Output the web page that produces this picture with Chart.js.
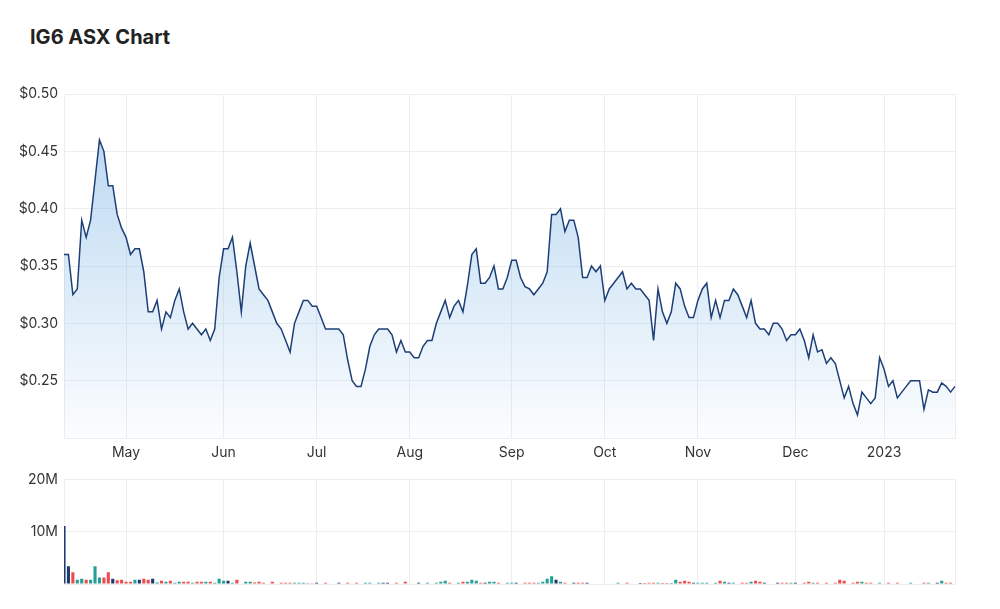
<!DOCTYPE html>
<html>
<head>
<meta charset="utf-8">
<title>IG6 ASX Chart</title>
<script src="https://cdn.jsdelivr.net/npm/chart.js@4.4.1/dist/chart.umd.min.js"></script>
<style>
  html, body { margin: 0; padding: 0; background: #fff; }
  body { width: 1000px; height: 609px; position: relative; overflow: hidden; font-family: Inter, sans-serif; }
  h1 { position: absolute; left: 30px; top: 24px; margin: 0; font-size: 20px; font-weight: 700; line-height: 26px; color: #222; }
  #priceBox { position: absolute; left: 0; top: 60px; width: 1000px; height: 420px; }
  #volBox { position: absolute; left: 0; top: 465px; width: 1000px; height: 144px; }
</style>
</head>
<body>
<h1>IG6 ASX Chart</h1>
<div id="priceBox"><canvas id="priceChart"></canvas></div>
<div id="volBox"><canvas id="volChart"></canvas></div>
<script>
// month tick labels (first trading day of each month gets the label)
const months = ['', 'May', 'Jun', 'Jul', 'Aug', 'Sep', 'Oct', 'Nov', 'Dec', '2023'];

// daily closing price, one array per month
const priceApr = [0.36, 0.36, 0.325, 0.33, 0.39, 0.375, 0.39, 0.425, 0.46, 0.45, 0.42, 0.42, 0.395, 0.383];
const priceMay = [0.375, 0.36, 0.365, 0.365, 0.345, 0.31, 0.31, 0.32, 0.295, 0.31, 0.305, 0.32, 0.33, 0.31, 0.295, 0.30, 0.295, 0.29, 0.295, 0.285, 0.295, 0.34];
const priceJun = [0.365, 0.365, 0.375, 0.345, 0.31, 0.35, 0.37, 0.35, 0.33, 0.325, 0.32, 0.31, 0.30, 0.295, 0.285, 0.275, 0.30, 0.31, 0.32, 0.32, 0.315];
const priceJul = [0.315, 0.305, 0.295, 0.295, 0.295, 0.295, 0.29, 0.268, 0.25, 0.245, 0.245, 0.26, 0.28, 0.29, 0.295, 0.295, 0.295, 0.29, 0.275, 0.285, 0.275];
const priceAug = [0.275, 0.27, 0.27, 0.28, 0.285, 0.285, 0.30, 0.31, 0.32, 0.305, 0.315, 0.32, 0.31, 0.333, 0.36, 0.365, 0.335, 0.335, 0.34, 0.35, 0.33, 0.33, 0.34];
const priceSep = [0.355, 0.355, 0.34, 0.332, 0.33, 0.325, 0.33, 0.335, 0.345, 0.395, 0.395, 0.40, 0.38, 0.39, 0.39, 0.375, 0.34, 0.34, 0.35, 0.345, 0.35];
const priceOct = [0.32, 0.33, 0.335, 0.34, 0.345, 0.33, 0.335, 0.33, 0.33, 0.325, 0.32, 0.285, 0.33, 0.31, 0.30, 0.31, 0.335, 0.33, 0.315, 0.305, 0.305];
const priceNov = [0.32, 0.33, 0.335, 0.305, 0.32, 0.305, 0.32, 0.32, 0.33, 0.325, 0.315, 0.305, 0.32, 0.30, 0.295, 0.295, 0.29, 0.30, 0.30, 0.295, 0.285, 0.29];
const priceDec = [0.29, 0.295, 0.285, 0.27, 0.29, 0.275, 0.277, 0.265, 0.27, 0.265, 0.25, 0.235, 0.245, 0.23, 0.22, 0.24, 0.235, 0.23, 0.235, 0.27];
const priceJan = [0.26, 0.245, 0.25, 0.235, 0.24, 0.245, 0.25, 0.25, 0.25, 0.225, 0.242, 0.24, 0.24, 0.248, 0.245, 0.24, 0.245];

// daily volume in millions of shares
const volApr = [11.1, 3.4, 2.25, 0.8, 1.0, 0.8, 0.8, 3.4, 1.25, 1.25, 2.25, 1.0, 0.7, 0.8];
const volMay = [0.45, 0.45, 0.8, 0.8, 1.0, 0.8, 1.0, 0.3, 0.6, 0.45, 0.6, 0.25, 0.45, 0.45, 0.45, 0.25, 0.45, 0.45, 0.45, 0.45, 0.25, 1.0];
const volJun = [0.6, 0.6, 0.25, 0.8, 0.1, 0.45, 0.45, 0.3, 0.45, 0.25, 0.1, 0.45, 0.1, 0.25, 0.25, 0.25, 0.25, 0.25, 0.25, 0.15, 0.15];
const volJul = [0.25, 0.1, 0.25, 0.1, 0.1, 0.25, 0.1, 0.25, 0.1, 0.25, 0.1, 0.25, 0.25, 0.1, 0.25, 0.25, 0.25, 0.1, 0.25, 0.1, 0.45];
const volAug = [0.1, 0.1, 0.25, 0.1, 0.25, 0.1, 0.25, 0.45, 0.6, 0.25, 0.1, 0.25, 0.45, 0.45, 0.8, 0.6, 0.25, 0.25, 0.45, 0.45, 0.25, 0.1, 0.25];
const volSep = [0.25, 0.25, 0.1, 0.25, 0.25, 0.25, 0.25, 0.45, 1.0, 1.5, 0.8, 0.45, 0.25, 0.1, 0.25, 0.25, 0.25, 0.25, 0.1, 0.1, 0.1];
const volOct = [0.1, 0.1, 0.1, 0.25, 0.1, 0.25, 0.1, 0.1, 0.2, 0.2, 0.25, 0.25, 0.25, 0.2, 0.2, 0.2, 0.8, 0.45, 0.6, 0.45, 0.25];
const volNov = [0.25, 0.25, 0.25, 0.1, 0.25, 0.6, 0.45, 0.25, 0.25, 0.1, 0.25, 0.25, 0.45, 0.6, 0.45, 0.25, 0.1, 0.1, 0.25, 0.25, 0.25, 0.25];
const volDec = [0.25, 0.1, 0.25, 0.45, 0.25, 0.25, 0.1, 0.25, 0.1, 0.25, 0.8, 0.6, 0.1, 0.25, 0.45, 0.45, 0.25, 0.25, 0.1, 0.25];
const volJan = [0.1, 0.25, 0.1, 0.25, 0.1, 0.1, 0.25, 0.1, 0.1, 0.25, 0.25, 0.1, 0.25, 0.6, 0.25, 0.25, 0.1];

const priceByMonth = [priceApr, priceMay, priceJun, priceJul, priceAug, priceSep, priceOct, priceNov, priceDec, priceJan];
const volByMonth = [volApr, volMay, volJun, volJul, volAug, volSep, volOct, volNov, volDec, volJan];

const labels = [];
priceByMonth.forEach((m, k) => m.forEach((_, j) => labels.push(j === 0 ? months[k] : '')));
const prices = [].concat(...priceByMonth);
const volumes = [].concat(...volByMonth).map(v => v * 1e6);

// bar colour follows the day's price move
const barColors = prices.map((p, i) => {
  if (i === 0 || p === prices[i - 1]) return '#1e3a6e';
  return p > prices[i - 1] ? '#26a096' : '#ec4e4e';
});

Chart.defaults.font.family = 'Inter';
Chart.defaults.color = '#333';

const gridLine = '#ededed';
function monthGrid(ctx) {
  const i = ctx.index;
  if (labels[i] || i === 0 || i === labels.length - 1) return gridLine;
  return 'rgba(0,0,0,0)';
}

new Chart(document.getElementById('priceChart'), {
  type: 'line',
  data: {
    labels: labels,
    datasets: [{
      data: prices,
      borderColor: '#1d3f76',
      borderWidth: 1.5,
      pointRadius: 0,
      tension: 0,
      fill: 'start',
      backgroundColor: c => {
        const a = c.chart.chartArea;
        if (!a) return 'rgba(0,0,0,0)';
        const g = c.chart.ctx.createLinearGradient(0, a.top, 0, a.bottom);
        g.addColorStop(0, 'rgba(140,190,232,0.65)');
        g.addColorStop(1, 'rgba(140,190,232,0.03)');
        return g;
      }
    }]
  },
  options: {
    responsive: true,
    maintainAspectRatio: false,
    animation: false,
    layout: { padding: { top: 34, right: 45, bottom: 12, left: 0 } },
    plugins: { legend: { display: false }, tooltip: { enabled: false } },
    scales: {
      x: {
        type: 'category',
        offset: false,
        afterFit: s => { s.height = 30; },
        border: { display: true, color: gridLine },
        grid: { color: monthGrid, drawTicks: false },
        ticks: { autoSkip: false, maxRotation: 0, padding: 6, font: { size: 14 }, color: '#333' }
      },
      y: {
        min: 0.2,
        max: 0.5,
        afterFit: s => { s.width = 64; },
        border: { display: false },
        grid: { color: gridLine, drawTicks: false },
        ticks: {
          stepSize: 0.05,
          padding: 6,
          font: { size: 14 },
          color: '#333',
          callback: v => v < 0.21 ? '' : '$' + v.toFixed(2)
        }
      }
    }
  }
});

new Chart(document.getElementById('volChart'), {
  type: 'bar',
  data: {
    labels: labels,
    datasets: [{
      data: volumes,
      backgroundColor: barColors,
      barPercentage: 0.7,
      categoryPercentage: 1
    }]
  },
  options: {
    responsive: true,
    maintainAspectRatio: false,
    animation: false,
    layout: { padding: { top: 12, right: 45, bottom: 25, left: 0 } },
    plugins: { legend: { display: false }, tooltip: { enabled: false } },
    scales: {
      x: {
        type: 'category',
        offset: false,
        afterFit: s => { s.height = 0; },
        border: { display: true, color: gridLine },
        grid: { color: monthGrid, drawTicks: false, offset: false },
        ticks: { display: false, autoSkip: false }
      },
      y: {
        min: 0,
        max: 20e6,
        afterFit: s => { s.width = 64; },
        border: { display: false },
        grid: { color: gridLine, drawTicks: false },
        ticks: {
          stepSize: 10e6,
          padding: 6,
          font: { size: 14 },
          color: '#333',
          callback: v => v === 0 ? '' : (v / 1e6) + 'M'
        }
      }
    }
  }
});
</script>
</body>
</html>
